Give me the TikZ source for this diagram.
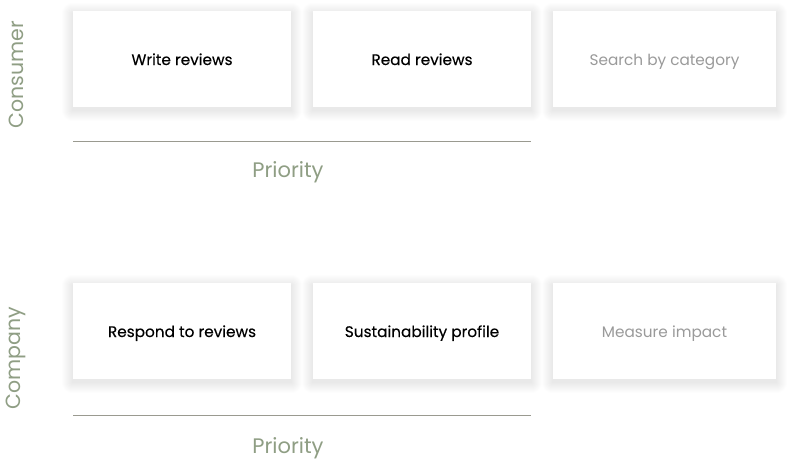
\documentclass[tikz,border=0pt]{standalone}
\usepackage{fontspec}
\setmainfont{Poppins}
\usetikzlibrary{backgrounds}
\definecolor{sage}{HTML}{8F9E84}
\definecolor{rule}{HTML}{9A9A90}
\definecolor{muted}{HTML}{9A9A9A}
\tikzset{
  card/.style={fill=white, draw=none, minimum width=218pt, minimum height=96pt, inner sep=0pt,
    text height=14pt, text depth=2pt,
    font=\fontsize{15.3}{17}\selectfont\addfontfeatures{FakeBold=0.25}, text=black},
  dim/.style={text=muted, font=\fontsize{15.3}{17}\selectfont},
  axislabel/.style={font=\fontsize{21}{24}\selectfont, text=sage},
  rowlabel/.style={font=\fontsize{20.5}{24}\selectfont, text=sage, rotate=90},
  axisline/.style={draw=rule, line width=0.9pt},
  shadowlayer/.style={fill=black, fill opacity=0.0065, draw=none}
}
\begin{document}
\begin{tikzpicture}[x=1pt,y=-1pt]
\useasboundingbox (0,0) rectangle (792,464);
% top row
\node[card] (w) at (182,59) {Write reviews};
\node[card] (r) at (422,59) {Read reviews};
\node[card, dim, minimum width=223pt] (s) at (664.5,59) {Search by category};
\node[rowlabel] (cons) at (16,75) {Consumer};
\coordinate (l1a) at (73,141);
\coordinate (l1b) at (531,141);
\draw[axisline] (l1a) -- (l1b);
\node[axislabel] (p1) at (288,172) {Priority};
% bottom row
\node[card] (rr) at (182,331) {Respond to reviews};
\node[card] (sp) at (422,331) {Sustainability profile};
\node[card, dim, minimum width=223pt] (mi) at (664.5,331) {Measure impact};
\node[rowlabel] (comp) at (16,358) {Company};
\coordinate (l2a) at (73,415);
\coordinate (l2b) at (531,415);
\draw[axisline] (l2a) -- (l2b);
\node[axislabel] (p2) at (288,448) {Priority};
% soft shadows
\begin{scope}[on background layer]
\fill[white] (0,0) rectangle (792,464);
\foreach \n in {w,r,s,rr,sp,mi}{
  \foreach \i in {1,...,11}{
    \fill[shadowlayer, rounded corners=\i pt]
      ([xshift=-\i pt, yshift=-\i pt-3pt]\n.south west) rectangle ([xshift=\i pt, yshift=\i pt-3pt]\n.north east);
  }
}
\end{scope}
\end{tikzpicture}
\end{document}
